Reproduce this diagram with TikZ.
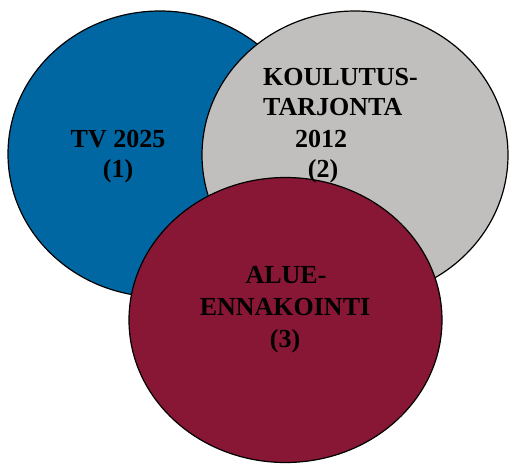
\documentclass[tikz,border=0pt]{standalone}
\usepackage{fontspec}
\setmainfont{Liberation Serif}
\definecolor{tvblue}{HTML}{0067A3}
\definecolor{kgray}{HTML}{C0BFBD}
\definecolor{alred}{HTML}{871734}
\begin{document}
\begin{tikzpicture}[x=1pt,y=-1pt,
  venn/.style={draw=black,line width=1.2pt},
  lbl/.style={inner sep=0pt,font=\fontsize{26}{31}\selectfont\bfseries,text=black}]
\useasboundingbox (0,0) rectangle (509,464);
% three overlapping ellipses, drawn back to front
\path[venn,fill=tvblue] (160,154) ellipse [x radius=152, y radius=143];
\path[venn,fill=kgray] (355,155) ellipse [x radius=153, y radius=144];
\path[venn,fill=alred] (285.5,320) ellipse [x radius=156.5, y radius=142.5];
% labels
\node[lbl,anchor=base] (tv1) at (118,147) {TV 2025};
\node[lbl,anchor=base] (tv2) at (118,177) {(1)};
\node[lbl,anchor=base west] (ko1) at (263,85) {KOULUTUS-};
\node[lbl,anchor=base west] (ko2) at (263,115) {TARJONTA};
\node[lbl,anchor=base] (ko3) at (321,147) {2012};
\node[lbl,anchor=base] (ko4) at (323,177) {(2)};
\node[lbl,anchor=base] (al1) at (286,283) {ALUE-};
\node[lbl,anchor=base] (al2) at (285,315) {ENNAKOINTI};
\node[lbl,anchor=base] (al3) at (285,347) {(3)};
\end{tikzpicture}
\end{document}
